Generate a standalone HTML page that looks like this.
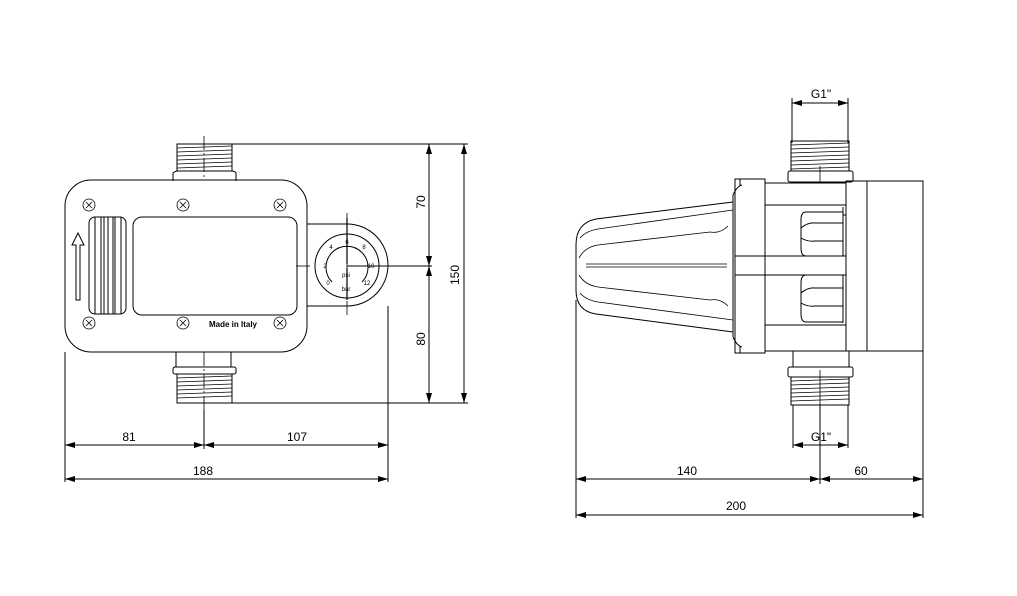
<!DOCTYPE html>
<html><head><meta charset="utf-8"><style>
html,body{margin:0;padding:0;background:#fff;}
svg{display:block;}
text{font-family:"Liberation Sans",Arial,sans-serif;fill:#000;}
</style></head><body>
<svg width="1017" height="596" viewBox="0 0 1017 596" xmlns="http://www.w3.org/2000/svg">
<defs>
<marker id="a" viewBox="0 0 10 6" refX="10" refY="3" markerWidth="10" markerHeight="6" orient="auto-start-reverse" markerUnits="userSpaceOnUse"><path d="M0,0 L10,3 L0,6 z" fill="#000"/></marker>
</defs>
<g fill="none" stroke="#000" stroke-width="1">
<rect x="177" y="144" width="55" height="27"/>
<g stroke-width="0.8">
<path d="M177,148 L232,146 M177,152 L232,150 M177,156 L232,154 M177,160 L232,158 M177,164 L232,162 M177,168 L232,166"/>
</g>
<path d="M173,181 L173,173 Q175,171 178,171 L231,171 Q235,171 236,173 L236,181"/>
<rect x="65" y="180" width="242" height="172" rx="26"/>
<rect x="89" y="217" width="37" height="97" rx="6"/>
<path d="M95,217 V314 M101,217 V314 M104,217 V314 M108,217 V314 M113,217 V314 M115,217 V314 M121,217 V314"/>
<rect x="133" y="217" width="164" height="98" rx="9"/>
<path d="M76,300 V245 H72 L78,233 L84,245 H80 V300 Z"/>
<g stroke-width="0.8">
<circle cx="89" cy="205" r="6"/><circle cx="183" cy="205" r="6"/><circle cx="280" cy="205" r="6"/>
<circle cx="89" cy="323" r="6"/><circle cx="183" cy="323" r="6"/><circle cx="280" cy="323" r="6"/>
<path d="M86,202 l6,6 m0,-6 l-6,6 M180,202 l6,6 m0,-6 l-6,6 M277,202 l6,6 m0,-6 l-6,6 M86,320 l6,6 m0,-6 l-6,6 M180,320 l6,6 m0,-6 l-6,6 M277,320 l6,6 m0,-6 l-6,6"/>
</g>
<path d="M307,224 H347 A41,41 0 0 1 347,306 H307"/>
<circle cx="347" cy="266" r="32"/>
<path d="M332,282 A21,21 0 1 1 362,282"/>
<path d="M176,352 V367 M231,352 V367"/>
<rect x="173" y="367" width="63" height="7" rx="2"/>
<rect x="177" y="374" width="55" height="29"/>
<path stroke-width="0.8" d="M177,378 L232,376 M177,382 L232,380 M177,386 L232,384 M177,390 L232,388 M177,394 L232,392 M177,398 L232,396"/>
</g>
<g stroke="#000" stroke-width="0.8" stroke-dasharray="14,3,2,3" fill="none">
<path d="M204,136 V180"/><path d="M204,352 V410"/>
<path d="M296,266 H313"/>
<path d="M347,213 V318"/>
</g>
<path d="M347,218 V264 M347,268 V300" stroke="#000" stroke-width="1.2"/>
<g font-size="6" text-anchor="middle">
<text x="347" y="244">6</text><text x="331" y="249">4</text><text x="364" y="249">8</text>
<text x="325" y="268">2</text><text x="371" y="268">10</text>
<text x="328" y="285">0</text><text x="367" y="285">12</text>
<text x="346" y="277">psi</text><text x="346" y="291">bar</text>
</g>
<text x="233" y="327" font-size="8" font-weight="bold" text-anchor="middle">Made in Italy</text>

<g stroke="#000" stroke-width="1" fill="none">
<path d="M232,144 H468"/><path d="M232,403 H468"/><path d="M347,266 H432"/>
<path d="M65,352 V482"/><path d="M388,306 V482"/><path d="M204,410 V449"/>
<path d="M429,144 V266" marker-start="url(#a)" marker-end="url(#a)"/>
<path d="M429,266 V403" marker-start="url(#a)" marker-end="url(#a)"/>
<path d="M464,144 V403" marker-start="url(#a)" marker-end="url(#a)"/>
<path d="M65,445 H204" marker-start="url(#a)" marker-end="url(#a)"/>
<path d="M204,445 H388" marker-start="url(#a)" marker-end="url(#a)"/>
<path d="M65,479 H388" marker-start="url(#a)" marker-end="url(#a)"/>
</g>
<g font-size="12" text-anchor="middle">
<text x="129" y="441">81</text><text x="297" y="441">107</text><text x="203" y="475">188</text>
<text transform="translate(425,202) rotate(-90)">70</text>
<text transform="translate(425,339) rotate(-90)">80</text>
<text transform="translate(459,275) rotate(-90)">150</text>
</g>

<g fill="none" stroke="#000" stroke-width="1">
<rect x="791" y="141" width="58" height="30"/>
<path stroke-width="0.8" d="M791,145 L849,143 M791,149 L849,147 M791,153 L849,151 M791,157 L849,155 M791,161 L849,159 M791,165 L849,163 M791,169 L849,167"/>
<rect x="788" y="171" width="65" height="11" rx="2"/>
<path d="M735,179 H765 V353 H735 Z"/>
<path d="M740,179 V186 M740,346 V353"/>
<path d="M733,195 Q737,186 742,185 M733,337 Q737,346 742,347"/>
<path d="M733,195 V337"/>
<path d="M735,256 H765 M735,275 H765"/>
<path d="M765,183 H846 V351 H765"/>
<path d="M765,205 H846 M765,325 H846 M765,256 H846 M765,275 H846"/>
<path d="M843,207 V215 H846 M843,245 V255 M843,277 V285 M843,315 V323"/>
<path d="M806,212 H843 V256 H806 Q801,256 801,248 V220 Q801,212 806,212 Z"/>
<path d="M801,228 Q808,222 815,223 H843 M801,238 Q808,242 815,241 H843"/>
<path d="M806,275 H843 V322 H806 Q801,322 801,314 V283 Q801,275 806,275 Z"/>
<path d="M801,293 Q808,287 815,288 H843 M801,303 Q808,307 815,306 H843"/>
<rect x="846" y="181" width="21" height="170"/>
<rect x="867" y="181" width="56" height="170"/>
<path d="M733,202 L596,219 Q576,223 576,245 V290 Q576,311 596,314 L733,332"/>
<g stroke-width="0.8">
<path d="M733,210 L598,229 Q586,231 580,238 M728,226 Q720,234 710,232 L598,245 Q585,247 579,258"/>
<path d="M733,320 L598,302 Q586,300 580,293 M728,306 Q720,298 710,300 L598,287 Q585,285 579,275"/>
<path d="M586,264 H727 M586,267 H727"/>
</g>
<path d="M793,351 V367 M849,351 V367"/>
<rect x="788" y="367" width="65" height="10" rx="2"/>
<rect x="791" y="377" width="58" height="28"/>
<path stroke-width="0.8" d="M791,381 L849,379 M791,385 L849,383 M791,389 L849,387 M791,393 L849,391 M791,397 L849,395 M791,401 L849,399"/>
</g>
<path d="M820,166 V182 M820,370 V405" stroke="#000" stroke-width="0.8"/>
<g stroke="#000" stroke-width="1" fill="none">
<path d="M792,98 V143 M848,98 V143"/>
<path d="M792,103 H848" marker-start="url(#a)" marker-end="url(#a)"/>
<path d="M793,405 V448 M848,405 V448"/>
<path d="M793,445 H848" marker-start="url(#a)" marker-end="url(#a)"/>
<path d="M576,300 V518"/><path d="M923,351 V518"/><path d="M820,405 V484"/>
<path d="M576,479 H820" marker-start="url(#a)" marker-end="url(#a)"/>
<path d="M820,479 H923" marker-start="url(#a)" marker-end="url(#a)"/>
<path d="M576,515 H923" marker-start="url(#a)" marker-end="url(#a)"/>
</g>
<g font-size="12" text-anchor="middle">
<text x="821" y="98">G1"</text>
<text x="821" y="441">G1"</text>
<text x="687" y="475">140</text><text x="861" y="475">60</text><text x="736" y="510">200</text>
</g>
</svg>
</body></html>
